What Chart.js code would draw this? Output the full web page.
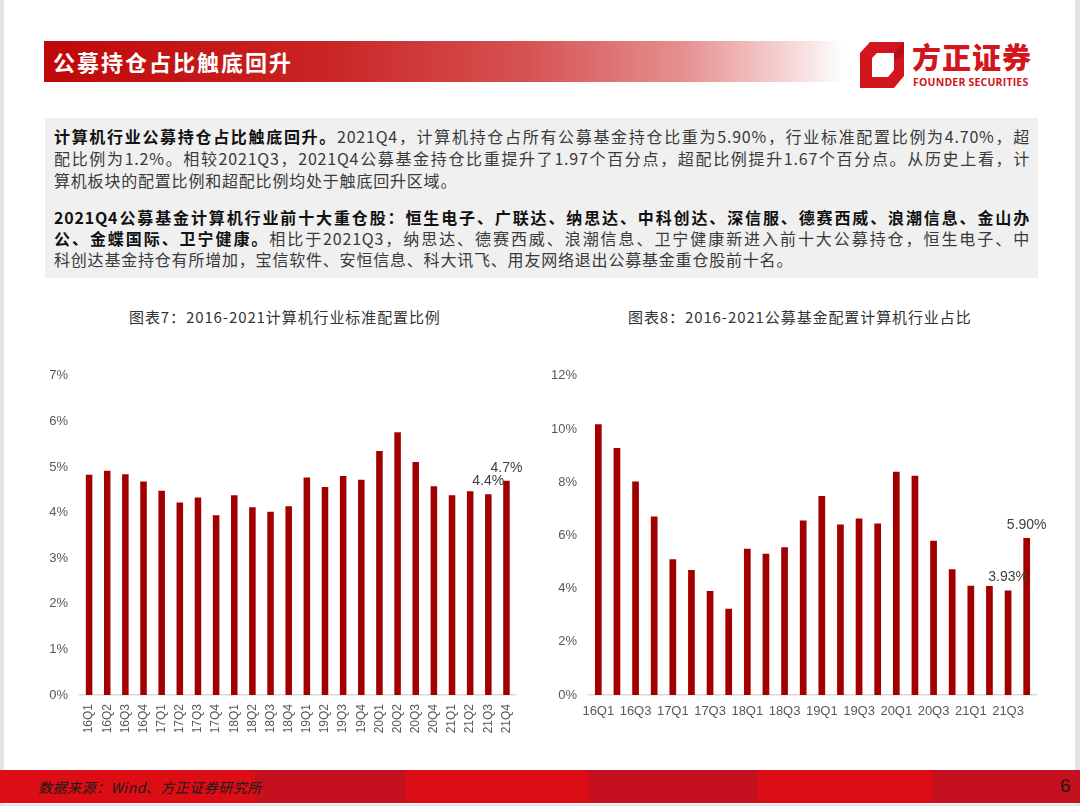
<!DOCTYPE html>
<html>
<head>
<meta charset="utf-8">
<script src="https://cdn.jsdelivr.net/npm/chart.js@4/dist/chart.umd.min.js"></script>
<style>
    html, body { margin: 0; padding: 0; }
    body { width: 1080px; height: 806px; background: #e4e4e4; position: relative; overflow: hidden;
           font-family: "Noto Sans CJK SC", "Liberation Sans", sans-serif; }
    .page { position: absolute; left: 4px; top: 0; width: 1071px; height: 804px; background: #fff; }
    .header { position: absolute; left: 44px; top: 41px; width: 800px; height: 41px;
              background: linear-gradient(to right, #c00808 0%, #c92424 35%, #d65252 60%, #e69090 80%, #f6dada 94%, #ffffff 100%); }
    .header span { position: absolute; left: 9px; top: 7px; color: #fff; font-size: 22px; font-weight: 700;
                   letter-spacing: 2px; line-height: 26px; }
    .logo { position: absolute; left: 860px; top: 42px; }
    .logo-cn { position: absolute; left: 912px; top: 38px; color: #d3151d; font-size: 29px; font-weight: 900;
               letter-spacing: 1px; line-height: 36px; }
    .logo-en { position: absolute; left: 913px; top: 76px; color: #d3151d; font-size: 10.5px; font-weight: 700;
               font-family: "Open Sans", "Liberation Sans", sans-serif; letter-spacing: 0.2px; line-height: 12px; }
    .textbox { position: absolute; left: 45px; top: 118px; width: 993px; height: 160px; background: #f0f0f0; }
    .line { position: absolute; left: 9px; width: 976px; font-size: 16px; line-height: 21px; color: #3a3a3a;
            white-space: nowrap; letter-spacing: 0.8px; }
    .just { text-align: justify; text-align-last: justify; }
    .line b { color: #111; }
    .ctitle { position: absolute; top: 307px; font-size: 15px; color: #333; line-height: 20px; white-space: nowrap;
              letter-spacing: 0.9px; }
    .footer { position: absolute; left: 0; top: 770px; width: 1080px; height: 33px;
              background: linear-gradient(to right, #dc0d15 0%, #dc0d15 23.6%, #c5111f 23.6%, #c5111f 37.6%,
              #dc0d15 37.6%, #dc0d15 54.5%, #c5111f 54.5%, #c5111f 70.2%, #dc0d15 70.2%, #dc0d15 86.4%,
              #c5111f 86.4%, #c5111f 100%); }
    .footer .src { position: absolute; left: 38px; top: 8px; font-size: 14px; font-style: italic; color: #1a1a1a;
                   line-height: 18px; letter-spacing: 0.5px; }
    .footer .pg { position: absolute; left: 1060px; top: 4px; font-size: 19px; color: #1a1a1a; line-height: 24px;
                  font-family: "Liberation Sans", sans-serif; }
    .cbox { position: absolute; top: 356px; height: 384px; }
</style>
</head>
<body>
<div class="page"></div>

<div class="header"><span>公募持仓占比触底回升</span></div>
<svg class="logo" width="44" height="46" viewBox="0 0 44 46">
    <polygon points="10,0 44,0 44,34 34,46 0,46 0,11" fill="#d3151d"/>
    <polygon points="17,11 34,11 34,28 28,35 12,35 12,16" fill="#fff"/>
    <polygon points="34,11 44,0 44,12 34,20" fill="#b50f17"/>
</svg>
<div class="logo-cn">方正证券</div>
<div class="logo-en">FOUNDER SECURITIES</div>

<div class="textbox">
    <div class="line just" style="top:8px"><b>计算机行业公募持仓占比触底回升。</b>2021Q4，计算机持仓占所有公募基金持仓比重为5.90%，行业标准配置比例为4.70%，超</div>
    <div class="line just" style="top:30px">配比例为1.2%。相较2021Q3，2021Q4公募基金持仓比重提升了1.97个百分点，超配比例提升1.67个百分点。从历史上看，计</div>
    <div class="line" style="top:52px">算机板块的配置比例和超配比例均处于触底回升区域。</div>
    <div class="line just" style="top:89px"><b>2021Q4公募基金计算机行业前十大重仓股：恒生电子、广联达、纳思达、中科创达、深信服、德赛西威、浪潮信息、金山办</b></div>
    <div class="line just" style="top:110px"><b>公、金蝶国际、卫宁健康。</b>相比于2021Q3，纳思达、德赛西威、浪潮信息、卫宁健康新进入前十大公募持仓，恒生电子、中</div>
    <div class="line" style="top:131px">科创达基金持仓有所增加，宝信软件、安恒信息、科大讯飞、用友网络退出公募基金重仓股前十名。</div>
</div>

<div class="ctitle" style="left:129px">图表7：2016-2021计算机行业标准配置比例</div>
<div class="ctitle" style="left:628px">图表8：2016-2021公募基金配置计算机行业占比</div>

<div class="cbox" style="left:40px; width:490px;"><canvas id="stdChart"></canvas></div>
<div class="cbox" style="left:540px; width:510px;"><canvas id="fundChart"></canvas></div>

<div class="footer">
    <span class="src">数据来源：Wind、方正证券研究所</span>
    <span class="pg">6</span>
</div>

<script>
// Quarters shared by both charts
const quarters = ['16Q1', '16Q2', '16Q3', '16Q4', '17Q1', '17Q2', '17Q3', '17Q4',
                  '18Q1', '18Q2', '18Q3', '18Q4', '19Q1', '19Q2', '19Q3', '19Q4',
                  '20Q1', '20Q2', '20Q3', '20Q4', '21Q1', '21Q2', '21Q3', '21Q4'];

// 图表7: 计算机行业标准配置比例 (%)
const stdWeight = [4.83, 4.92, 4.84, 4.68, 4.48, 4.22, 4.33, 3.94,
                   4.38, 4.12, 4.02, 4.14, 4.77, 4.56, 4.80, 4.72,
                   5.35, 5.76, 5.11, 4.58, 4.38, 4.47, 4.4, 4.7];

// 图表8: 公募基金配置计算机行业占比 (%)
const fundWeight = [10.18, 9.29, 8.03, 6.71, 5.10, 4.70, 3.91, 3.24,
                    5.50, 5.31, 5.55, 6.56, 7.48, 6.41, 6.64, 6.45,
                    8.39, 8.24, 5.80, 4.73, 4.11, 4.10, 3.93, 5.90];

// which bars get a value label
const stdLabelIdx = [22, 23];
const fundLabelIdx = [22, 23];

const barColor = '#a20000';
const tickColor = '#595959';
const tickFont = { family: 'Liberation Sans', size: 13 };

// Draws value labels above the chosen bars
const valueLabels = {
    id: 'valueLabels',
    afterDatasetsDraw(chart, args, opts) {
        const ctx = chart.ctx;
        const meta = chart.getDatasetMeta(0);
        const values = chart.data.datasets[0].data;
        ctx.save();
        ctx.font = '14px "Liberation Sans"';
        ctx.fillStyle = '#404040';
        ctx.textAlign = 'center';
        ctx.textBaseline = 'bottom';
        opts.indices.forEach(i => {
            const bar = meta.data[i];
            ctx.fillText(values[i].toFixed(opts.decimals) + '%', bar.x, bar.y - 6);
        });
        ctx.restore();
    }
};

function makeChart(id, values, opts) {
    return new Chart(document.getElementById(id), {
        type: 'bar',
        data: {
            labels: quarters,
            datasets: [{
                data: values,
                backgroundColor: barColor,
                borderWidth: 0,
                barPercentage: 0.36,
                categoryPercentage: 1
            }]
        },
        plugins: [valueLabels],
        options: {
            responsive: true,
            maintainAspectRatio: false,
            animation: false,
            layout: { padding: { top: 11, right: opts.padRight, left: 0, bottom: 0 } },
            plugins: {
                legend: { display: false },
                tooltip: { enabled: false },
                valueLabels: { indices: opts.labelIdx, decimals: opts.decimals }
            },
            scales: {
                x: {
                    grid: { display: false, drawTicks: false },
                    border: { display: true, color: '#d9d9d9', width: 1.5 },
                    afterFit: scale => { scale.height = 45; },
                    ticks: {
                        color: tickColor,
                        font: opts.xFont,
                        padding: opts.xPad,
                        autoSkip: false,
                        minRotation: opts.rotation,
                        maxRotation: opts.rotation,
                        callback: function(val, i) {
                            return i % opts.every === 0 ? this.getLabelForValue(val) : '';
                        }
                    }
                },
                y: {
                    min: 0,
                    max: opts.max,
                    grid: { display: false, drawTicks: false },
                    border: { display: false },
                    afterFit: scale => { scale.width = opts.yWidth; },
                    ticks: {
                        stepSize: opts.step,
                        color: tickColor,
                        font: tickFont,
                        padding: 12,
                        callback: v => v + '%'
                    }
                }
            }
        }
    });
}

makeChart('stdChart', stdWeight, {
    max: 7, step: 1, yWidth: 40, padRight: 6,
    rotation: 90, every: 1, xPad: 9, xFont: { family: 'Liberation Sans', size: 12 },
    labelIdx: stdLabelIdx, decimals: 1
});

makeChart('fundChart', fundWeight, {
    max: 12, step: 2, yWidth: 49, padRight: 14,
    rotation: 0, every: 2, xPad: 9, xFont: tickFont,
    labelIdx: fundLabelIdx, decimals: 2
});
</script>
</body>
</html>
